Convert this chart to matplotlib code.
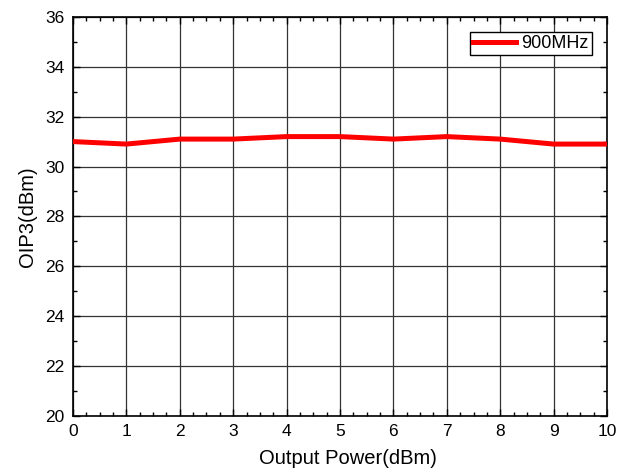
import matplotlib
matplotlib.use("Agg")
import matplotlib.pyplot as plt
from matplotlib.ticker import MultipleLocator

plt.rcParams['font.family'] = ['Liberation Sans', 'DejaVu Sans']

x_vals = [0, 1, 2, 3, 4, 5, 6, 7, 8, 9, 10]
oip3 = [31.0, 30.9, 31.1, 31.1, 31.2, 31.2, 31.1, 31.2, 31.1, 30.9, 30.9]
series_label = "900MHz"

fig = plt.figure(figsize=(6.17, 4.76), dpi=100)
ax = fig.add_axes([0.1183, 0.1267, 0.8655, 0.8376])
ax.plot(x_vals, oip3, color='#ff0000', lw=3.6, label=series_label, zorder=3)

ax.set_xlim(0, 10)
ax.set_ylim(20, 36)
ax.xaxis.set_major_locator(MultipleLocator(1))
ax.xaxis.set_minor_locator(MultipleLocator(0.25))
ax.yaxis.set_major_locator(MultipleLocator(2))
ax.yaxis.set_minor_locator(MultipleLocator(1))
ax.tick_params(which='both', direction='in', top=True, right=True, labelsize=12.5, width=1)
ax.tick_params(which='major', length=5)
ax.tick_params(which='minor', length=3)
ax.tick_params(axis='x', pad=6)
ax.tick_params(axis='y', pad=6)
ax.grid(True, which='major', color='#333333', lw=0.9)
for s in ax.spines.values():
    s.set_linewidth(1.2)

ax.set_xlabel('Output Power(dBm)', fontsize=14.5, labelpad=4)
ax.xaxis.set_label_coords(0.515, -0.083)
ax.set_ylabel('OIP3(dBm)', fontsize=14.5, labelpad=6)

leg = ax.legend(loc='upper right', fontsize=13, fancybox=False, framealpha=1,
                edgecolor='black', borderpad=0.15, handlelength=2.4,
                handletextpad=0.3, borderaxespad=0.85)
leg.get_frame().set_linewidth(1.0)

fig.savefig('out.png', dpi=100)
